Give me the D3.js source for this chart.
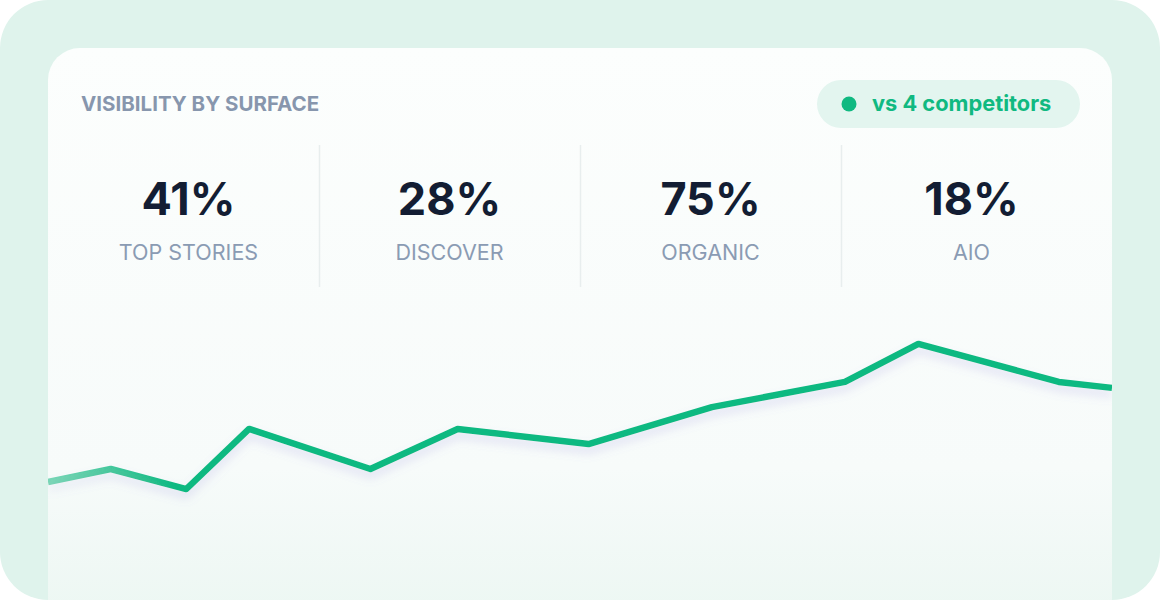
<!DOCTYPE html>
<html><head><meta charset="utf-8">
<script src="https://cdn.jsdelivr.net/npm/d3@7"></script>
<style>body{margin:0;background:#fff}svg{display:block}</style>
</head><body>
<svg id="c" width="1160" height="600"></svg>
<script>
const statValues = ["41%", "28%", "75%", "18%"];
const statLabels = ["TOP STORIES", "DISCOVER", "ORGANIC", "AIO"];
const xPos = [0, 5.9, 13, 18.9, 30.3, 38.5, 50.8, 62.4, 74.9, 81.8, 95, 100];
const values = [30, 35, 27.3, 50.4, 35, 50.4, 44.6, 58.8, 68.5, 83.1, 68.5, 66.2];
const title = "VISIBILITY BY SURFACE";
const badge = "vs 4 competitors";

const svg = d3.select("#c");
const defs = svg.append("defs");
const fadeCard = defs.append("linearGradient").attr("id","cardg").attr("x1",0).attr("y1",0).attr("x2",0).attr("y2",1);
fadeCard.append("stop").attr("offset",0).attr("stop-color","#fcfefd");
fadeCard.append("stop").attr("offset",0.7).attr("stop-color","#f7fbfa");
fadeCard.append("stop").attr("offset",1).attr("stop-color","#eaf6f1");
const lg = defs.append("linearGradient").attr("id","lineg").attr("gradientUnits","userSpaceOnUse").attr("x1",48).attr("x2",260).attr("y1",0).attr("y2",0);
lg.append("stop").attr("offset",0).attr("stop-color","#10b981").attr("stop-opacity",0.55);
lg.append("stop").attr("offset",0.6).attr("stop-color","#10b981").attr("stop-opacity",1);
const sh = defs.append("filter").attr("id","sh").attr("x","-10%").attr("y","-50%").attr("width","120%").attr("height","200%");
sh.append("feDropShadow").attr("dx",0).attr("dy",6).attr("stdDeviation",5).attr("flood-color","#8a7fd6").attr("flood-opacity",0.22);
defs.append("clipPath").attr("id","cc").append("rect").attr("x",48).attr("y",48).attr("width",1064).attr("height",600).attr("rx",32);

svg.append("rect").attr("width",1160).attr("height",600).attr("rx",48).attr("fill","#dff3ec");
svg.append("rect").attr("x",48).attr("y",48).attr("width",1064).attr("height",600).attr("rx",32).attr("fill","url(#cardg)");

svg.append("text").attr("x",81).attr("y",111).text(title)
  .attr("font-family","Inter").attr("font-weight",700).attr("font-size",20.5).attr("fill","#8796ad");

svg.append("rect").attr("x",817).attr("y",80).attr("width",263).attr("height",48).attr("rx",24).attr("fill","#e3f5ef");
svg.append("circle").attr("cx",849).attr("cy",104).attr("r",7.5).attr("fill","#10b981");
svg.append("text").attr("x",872).attr("y",111).text(badge)
  .attr("font-family","Inter").attr("font-weight",700).attr("font-size",21.8).attr("fill","#10b981");

const col = d3.scaleBand().domain(statLabels).range([58,1102]);
const g = svg.append("g");
statLabels.forEach((l,i)=>{
  const cx = col(l)+col.bandwidth()/2;
  g.append("text").attr("x",cx).attr("y",215).attr("text-anchor","middle").text(statValues[i])
    .attr("font-family","Inter").attr("font-weight",700).attr("font-size",45).attr("fill","#131d33");
  g.append("text").attr("x",cx).attr("y",260).attr("text-anchor","middle").text(l)
    .attr("font-family","Inter").attr("font-size",21.5).attr("fill","#8a9bb3");
  if(i>0) g.append("line").attr("x1",col(l)+0.5).attr("x2",col(l)+0.5).attr("y1",145).attr("y2",287).attr("stroke","#e8eeee").attr("stroke-width",1.5);
});

const x = d3.scaleLinear().domain([0,100]).range([48,1112]);
const y = d3.scaleLinear().domain([0,100]).range([560,300]);
const pts = xPos.map((d,i)=>[d,values[i]]);
svg.append("g").attr("clip-path","url(#cc)").append("path").datum(pts)
  .attr("d", d3.line().x(d=>x(d[0])).y(d=>y(d[1])))
  .attr("fill","none").attr("stroke","url(#lineg)").attr("stroke-width",6.5)
  .attr("stroke-linejoin","round").attr("filter","url(#sh)");
</script>
</body></html>
